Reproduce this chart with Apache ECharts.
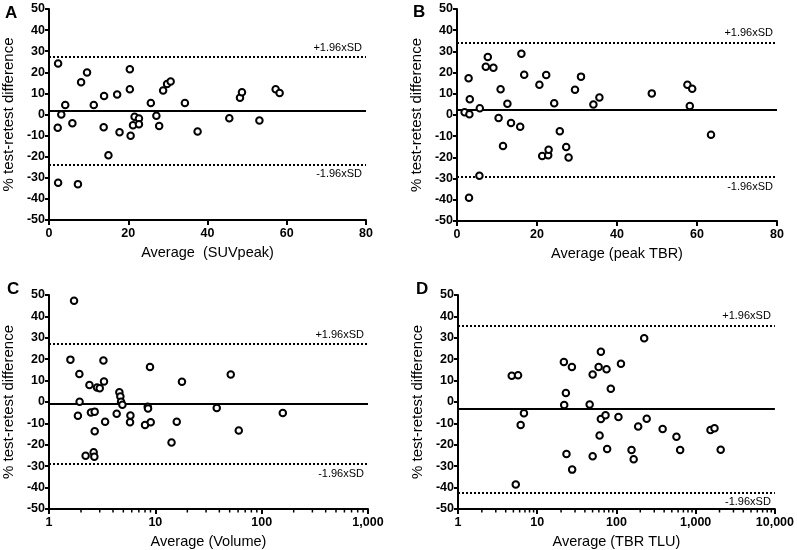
<!DOCTYPE html>
<html>
<head>
<meta charset="utf-8">
<script src="https://cdn.jsdelivr.net/npm/echarts@6/dist/echarts.min.js"></script>
<style>html,body{margin:0;padding:0;background:#fff;}#c{width:797px;height:550px;}</style>
</head>
<body>
<div id="c"></div>
<script>
// Panel A: Average (SUVpeak) vs % test-retest difference
const xA = [2.3, 2.2, 2.3, 3.1, 4.1, 5.9, 7.3, 8.1, 9.6, 11.3, 13.8, 13.9, 15.0, 17.2, 17.8, 20.4, 20.4, 20.6, 21.2, 21.6, 22.7, 22.7, 25.7, 27.1, 27.8, 28.8, 29.8, 30.7, 34.3, 37.5, 45.5, 48.2, 48.7, 53.1, 57.2, 58.2];
const yA = [24.2, -6.3, -32.4, 0, 4.5, -4.1, -33, 15.3, 19.9, 4.5, -6, 8.8, -19.3, 9.5, -8.4, 21.5, 12, -10.1, -5.1, -1.1, -1.9, -4.6, 5.5, -0.6, -5.5, 11.4, 14.5, 15.6, 5.4, -8.1, -1.8, 7.9, 10.6, -2.8, 12, 10.2];
const refA = [1.8, 27.2, -23.6]; // mean, +1.96xSD, -1.96xSD

// Panel B: Average (peak TBR)
const xB = [1.9, 3.1, 2.9, 3.2, 3.0, 5.7, 5.6, 7.2, 7.7, 9.1, 10.4, 10.9, 11.5, 12.6, 13.5, 15.8, 16.1, 16.8, 20.6, 21.3, 22.3, 22.8, 22.9, 24.3, 25.7, 27.3, 27.9, 29.5, 31.0, 34.1, 35.6, 48.7, 57.6, 58.8, 58.2, 63.5];
const yB = [1.3, 0.3, 17.3, 7.4, -39, 3.2, -28.6, 22.8, 27.4, 22.3, -1.4, 12.1, -14.6, 5.3, -3.8, -5.5, 28.9, 19, 14.3, -19.3, 18.9, -19, -16.4, 5.5, -7.7, -15.1, -20, 11.9, 18.1, 5.0, 8.2, 10.2, 14.3, 12.4, 4.2, -9.3];
const refB = [2.6, 34.3, -29.3];

// Panel C: Average (Volume), log scale
const xC = [1.72, 1.59, 1.93, 1.94, 1.87, 2.40, 2.48, 2.21, 2.69, 2.69, 2.63, 2.67, 2.83, 3.0, 3.25, 3.29, 3.37, 4.33, 4.59, 4.69, 4.76, 4.9, 5.83, 5.78, 8.0, 8.48, 8.54, 8.91, 9.05, 14.2, 15.9, 17.8, 37.8, 51.2, 60.9, 158];
const yC = [47.3, 19.8, 13.1, 0.1, -6.4, 7.9, -4.9, -25.1, -4.5, -13.7, -23.5, -25.6, 6.8, 6.4, 19.4, 9.6, -9.2, -5.5, 4.5, 2.6, 0.1, -1.3, -6.3, -9.5, -10.8, -2.2, -3.0, 16.4, -9.5, -18.9, -9.2, 9.5, -2.8, 12.9, -13.3, -5.1];
const refC = [-1.0, 27.0, -29.0];

// Panel D: Average (TBR TLU), log scale
const xD = [4.77, 5.73, 5.36, 6.18, 6.8, 21.7, 23.0, 21.9, 23.4, 27.4, 27.6, 45.9, 50.1, 50.1, 59.6, 63.6, 63.6, 61.3, 72.8, 75, 76.3, 84.9, 106, 114, 155, 165, 188, 224, 241, 383, 572, 637, 1540, 1729, 2070];
const yD = [12.3, 12.5, -38.5, -10.7, -5.3, 18.7, 4.2, -1.4, -24.3, 16.4, -31.6, -1.2, 12.9, -25.4, 16.4, 23.5, -7.9, -15.7, -6.2, 15.3, -22, 6.2, -7, 17.9, -22.4, -26.8, -11.5, 29.8, -7.8, -12.6, -16.2, -22.4, -13.1, -12.3, -22.3];
const refD = [-3.3, 35.7, -42.5];

// Log-axis minor tick values
const minorC = [2, 3, 4, 5, 6, 7, 8, 9, 20, 30, 40, 50, 60, 70, 80, 90, 200, 300, 400, 500, 600, 700, 800, 900];
const minorD = [2, 3, 4, 5, 6, 7, 8, 9, 20, 30, 40, 50, 60, 70, 80, 90, 200, 300, 400, 500, 600, 700, 800, 900, 2000, 3000, 4000, 5000, 6000, 7000, 8000, 9000];

const panelLetters = ['A', 'B', 'C', 'D'];
const xTitles = ['Average  (SUVpeak)', 'Average (peak TBR)', 'Average (Volume)', 'Average (TBR TLU)'];
const yTitle = '% test-retest difference';
const sdLabels = ['+1.96xSD', '-1.96xSD'];

const FONT = "'Liberation Sans', Arial, sans-serif";
const grids = [
  {left: 48, top: 9, width: 318, height: 211},
  {left: 457, top: 9, width: 320, height: 212},
  {left: 49, top: 295, width: 319, height: 214},
  {left: 458, top: 295, width: 320, height: 214}
];

function fmtNum(v) { return Math.round(v).toLocaleString('en-US'); }

const xAxes = [], yAxes = [], series = [];
const xs = [xA, xB, xC, xD], ys = [yA, yB, yC, yD], refs = [refA, refB, refC, refD];
for (let i = 0; i < 4; i++) {
  const isLog = i >= 2;
  const xa = {
    gridIndex: i,
    type: isLog ? 'log' : 'value',
    logBase: 10,
    min: isLog ? 1 : 0,
    max: isLog ? (i === 2 ? 1000 : 10000) : 80,
    name: xTitles[i],
    nameLocation: 'middle',
    nameGap: 25,
    nameTextStyle: {fontFamily: FONT, fontSize: 14.5, color: '#000'},
    axisLine: {show: true, onZero: false, lineStyle: {color: '#000', width: 2}},
    axisTick: {show: true, length: 5, lineStyle: {color: '#000', width: 2}},
    axisLabel: {fontFamily: FONT, fontSize: 12.5, fontWeight: 'bold', color: '#000', margin: 7,
      formatter: isLog ? fmtNum : null, showMaxLabel: true, showMinLabel: true},
    splitLine: {show: false}
  };
  if (!isLog) xa.interval = 20;
  xAxes.push(xa);
  yAxes.push({
    gridIndex: i,
    type: 'value',
    min: -50, max: 50, interval: 10,
    name: yTitle,
    nameLocation: 'middle',
    nameGap: 33,
    nameRotate: 90,
    nameTextStyle: {fontFamily: FONT, fontSize: 15, color: '#000'},
    axisLine: {show: true, onZero: false, lineStyle: {color: '#000', width: 2}},
    axisTick: {show: true, length: 4, lineStyle: {color: '#000', width: 2}},
    axisLabel: {fontFamily: FONT, fontSize: 12.5, fontWeight: 'bold', color: '#000', margin: 4},
    splitLine: {show: false}
  });
  const r = refs[i];
  series.push({
    type: 'scatter',
    xAxisIndex: i, yAxisIndex: i,
    data: xs[i].map((x, k) => [x, ys[i][k]]),
    symbol: 'circle',
    symbolSize: 6.5,
    itemStyle: {color: '#fff', borderColor: '#000', borderWidth: 2, opacity: 1},
    z: 5,
    markLine: {
      silent: true,
      symbol: ['none', 'none'],
      animation: false,
      data: [
        {yAxis: r[0], lineStyle: {color: '#000', width: 2, type: 'solid'}, label: {show: false}},
        {yAxis: r[1], lineStyle: {color: '#000', width: 2, type: [2, 2]},
          label: {show: true, formatter: sdLabels[0], position: 'insideEndTop', distance: 4,
            fontFamily: FONT, fontSize: 11, color: '#000'}},
        {yAxis: r[2], lineStyle: {color: '#000', width: 2, type: [2, 2]},
          label: {show: true, formatter: sdLabels[1], position: 'insideEndBottom', distance: 4,
            fontFamily: FONT, fontSize: 11, color: '#000'}}
      ]
    }
  });
  if (isLog) {
    const mins = i === 2 ? minorC : minorD;
    series.push({
      type: 'custom',
      xAxisIndex: i, yAxisIndex: i,
      silent: true,
      clip: false,
      data: mins.map(v => [v, -50]),
      renderItem: function (params, api) {
        const p = api.coord([api.value(0), api.value(1)]);
        return {type: 'line', shape: {x1: p[0], y1: p[1], x2: p[0], y2: p[1] + 3.5},
          style: {stroke: '#000', lineWidth: 1.5}};
      },
      z: 6
    });
  }
}

const letterPos = [[5, 5], [413, 4], [7, 281], [416, 281]];
const graphics = panelLetters.map((t, i) => ({
  type: 'text', left: letterPos[i][0], top: letterPos[i][1],
  style: {text: t, fontFamily: FONT, fontSize: 17, fontWeight: 'bold', fill: '#000'}
}));

const chart = echarts.init(document.getElementById('c'), null, {renderer: 'canvas'});
chart.setOption({
  animation: false,
  backgroundColor: '#fff',
  grid: grids,
  xAxis: xAxes,
  yAxis: yAxes,
  series: series,
  graphic: graphics
});
</script>
</body>
</html>
